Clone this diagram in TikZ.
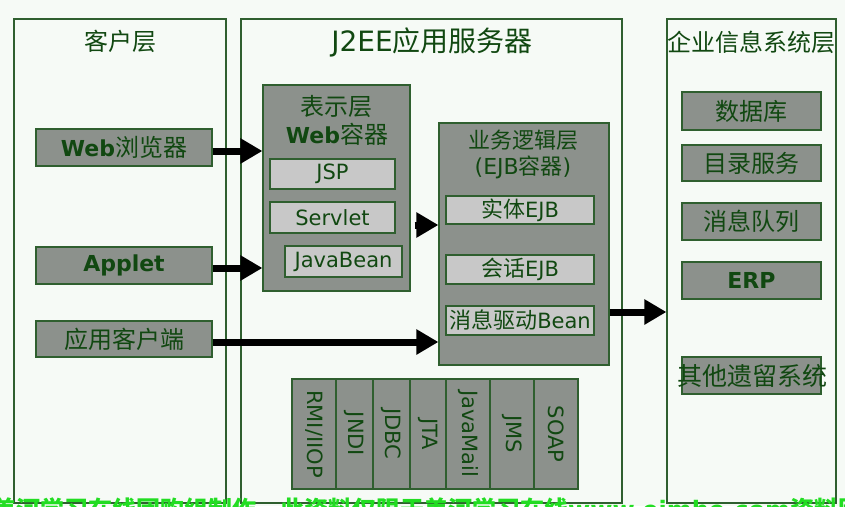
\documentclass[tikz,border=0pt]{standalone}
\usepackage{fontspec}
\setmainfont{DejaVu Sans}
\newfontfamily\cjk{Noto Sans CJK SC}
\usetikzlibrary{arrows.meta,calc}
\definecolor{bg}{HTML}{F6FAF6}
\definecolor{bd}{HTML}{2F5F2F}
\definecolor{tx}{HTML}{114811}
\definecolor{gfill}{HTML}{8C918C}
\definecolor{lfill}{HTML}{C8C8C8}
\definecolor{wm}{HTML}{22DD22}
\newcommand\zh[1]{{\cjk #1}}
\newcommand\fs[1]{\fontsize{#1}{#1}\selectfont}
\tikzset{
  tier/.style={draw=bd, line width=1.2pt, inner sep=0pt},
  gbox/.style={draw=bd, fill=gfill, line width=1.2pt, inner sep=0pt, text=tx, font=\fs{22}},
  lbox/.style={draw=bd, fill=lfill, line width=1.2pt, inner sep=0pt, text=tx, font=\fs{21}},
  ttl/.style={inner sep=0pt, text=tx},
  bigarrow/.style={line width=7pt, black, -{Triangle[length=22pt,width=24pt]}},
  apibox/.style={gbox, rotate=-90, minimum width=110pt, font=\fs{21}}
}
\begin{document}
\begin{tikzpicture}[x=1pt,y=-1pt]
\useasboundingbox (0,0) rectangle (845,506);
\fill[bg] (0,0) rectangle (845,506);

% tiers
\node[tier, minimum width=212pt, minimum height=484pt] (client) at (120,261) {};
\node[tier, minimum width=381pt, minimum height=484pt] (j2ee) at (431.5,261) {};
\node[tier, minimum width=169pt, minimum height=484pt] (eis) at (751.5,261) {};
\node[ttl, font=\fs{24}] (tclient) at (120,41) {\zh{客户层}};
\node[ttl, font=\fs{28}] (tj2ee) at (432,42) {J2EE\zh{应用服务器}};
\node[ttl, font=\fs{24}] (teis) at (751.5,42) {\zh{企业信息系统层}};

% client boxes
\node[gbox, minimum width=176pt, minimum height=37pt] (web) at (124,147.5) {\textbf{Web}\zh{\fs{24}浏览器}};
\node[gbox, minimum width=176pt, minimum height=37pt] (applet) at (124,265.5) {\textbf{Applet}};
\node[gbox, minimum width=176pt, minimum height=36pt] (app) at (124,339) {\zh{\fs{24}应用客户端}};

% presentation tier
\node[gbox, minimum width=147pt, minimum height=206pt] (pres) at (336.5,188) {};
\node[ttl, font=\fs{24}] (tpres1) at (336.5,106) {\zh{表示层}};
\node[ttl, font=\fs{24}] (tpres2) at (337,134) {\fs{22}\textbf{Web}\zh{\fs{24}容器}};
\node[lbox, minimum width=125pt, minimum height=30pt] (jsp) at (332.5,174) {JSP};
\node[lbox, minimum width=125pt, minimum height=31pt] (servlet) at (332.5,217.5) {Servlet};
\node[lbox, minimum width=117pt, minimum height=31pt] (jbean) at (343.5,261.5) {JavaBean};

% business tier
\node[gbox, minimum width=170pt, minimum height=242pt] (biz) at (524,244) {};
\node[ttl, font=\fs{22}] (tbiz1) at (523,140) {\zh{业务逻辑层}};
\node[ttl, font=\fs{22}] (tbiz2) at (523,167) {(EJB\zh{容器})};
\node[lbox, minimum width=148pt, minimum height=28pt] (entity) at (520,210) {\zh{\fs{22}实体}EJB};
\node[lbox, minimum width=148pt, minimum height=29pt] (session) at (520,269.5) {\zh{\fs{22}会话}EJB};
\node[lbox, minimum width=148pt, minimum height=29pt] (mdb) at (520,320.5) {\zh{\fs{22}消息驱动}Bean};

% API strip
\node[apibox, minimum height=44pt] (rmi) at (314,434) {RMI/IIOP};
\node[apibox, minimum height=37pt] (jndi) at (354.5,434) {JNDI};
\node[apibox, minimum height=37pt] (jdbc) at (391.5,434) {JDBC};
\node[apibox, minimum height=36pt] (jta) at (428,434) {JTA};
\node[apibox, minimum height=44pt] (jmail) at (468,434) {JavaMail};
\node[apibox, minimum height=44pt] (jms) at (512,434) {JMS};
\node[apibox, minimum height=44pt] (soap) at (556,434) {SOAP};

% EIS boxes
\node[gbox, minimum width=139pt, minimum height=38pt] (db) at (751.5,111) {\zh{\fs{24}数据库}};
\node[gbox, minimum width=139pt, minimum height=36pt] (dir) at (751.5,163) {\zh{\fs{24}目录服务}};
\node[gbox, minimum width=139pt, minimum height=37pt] (mq) at (751.5,221.5) {\zh{\fs{24}消息队列}};
\node[gbox, minimum width=139pt, minimum height=37pt] (erp) at (751.5,280.5) {\textbf{ERP}};
\node[gbox, minimum width=139pt, minimum height=37pt] (legacy) at (751.5,375.5) {};
\node[ttl, font=\fs{25}] (tlegacy) at (752,376) {\zh{其他遗留系统}};

% arrows
\draw[bigarrow] (web.east |- 0,151) -- (pres.west |- 0,151);
\draw[bigarrow] (applet.east |- 0,268) -- (pres.west |- 0,268);
\draw[bigarrow] (app.east |- 0,342) -- (biz.west |- 0,342);
\draw[bigarrow] ($(pres.east |- 0,225)+(4,0)$) -- (biz.west |- 0,225);
\draw[bigarrow] (biz.east |- 0,312) -- (eis.west |- 0,312);

% watermark (cut off by the page edge, as in the reference)
\node[anchor=base west, inner sep=0pt, text=wm, font=\fs{24}\bfseries] (wmark) at (-8,518)
  {\zh{美河学习在线团购组制作}\hspace{24pt}\zh{此资料仅限于美河学习在线}www.eimhe.com\zh{资料团购组}};
\end{tikzpicture}
\end{document}
